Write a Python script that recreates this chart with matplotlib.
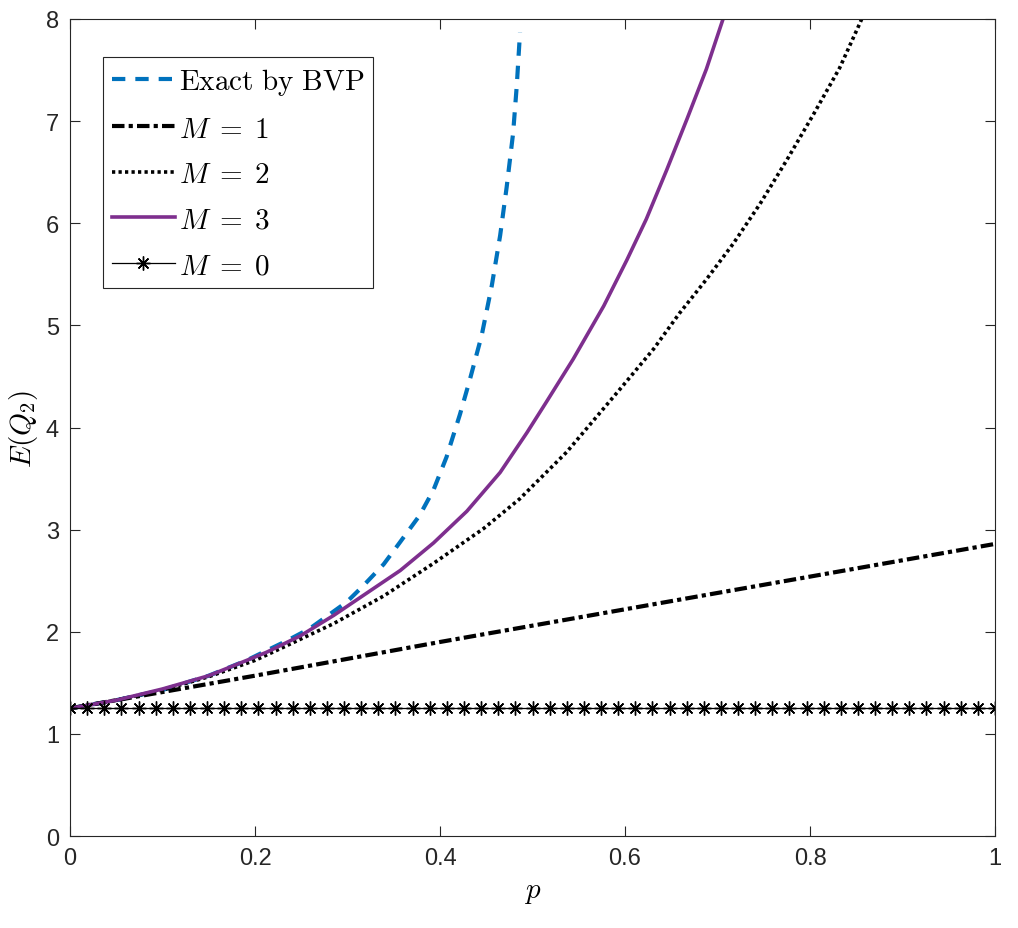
import numpy as np
import matplotlib
matplotlib.use("Agg")
import matplotlib.pyplot as plt

plt.rcParams['font.family'] = ['Liberation Sans', 'DejaVu Sans']
plt.rcParams['mathtext.fontset'] = 'cm'

# exact solution by BVP
p_bvp = [0, 0.05, 0.1, 0.15, 0.191, 0.209, 0.234, 0.259, 0.299, 0.317, 0.339, 0.357,
         0.378, 0.393, 0.407, 0.4216, 0.432, 0.445, 0.456, 0.465, 0.472, 0.479, 0.483, 0.4865]
e_bvp = [1.25, 1.33, 1.43, 1.57, 1.72, 1.80, 1.91, 2.03, 2.29, 2.45, 2.66, 2.88,
         3.14, 3.39, 3.71, 4.13, 4.46, 4.90, 5.39, 5.88, 6.35, 6.88, 7.35, 7.87]

# M = 1 (nearly straight)
p_m1 = [0, 0.2, 0.4, 0.6, 0.8, 1.0]
e_m1 = [1.25, 1.57, 1.90, 2.22, 2.54, 2.86]

# M = 2
p_m2 = [0, 0.05, 0.1, 0.15, 0.2, 0.231, 0.285, 0.339, 0.393, 0.447, 0.486, 0.537,
        0.595, 0.631, 0.659, 0.688, 0.717, 0.746, 0.775, 0.804, 0.832, 0.854, 0.87]
e_m2 = [1.25, 1.33, 1.43, 1.56, 1.72, 1.85, 2.08, 2.35, 2.67, 3.01, 3.30, 3.76,
        4.38, 4.77, 5.12, 5.45, 5.80, 6.19, 6.62, 7.07, 7.52, 7.96, 8.3]

# M = 3
p_m3 = [0, 0.05, 0.1, 0.15, 0.191, 0.2126, 0.249, 0.285, 0.321, 0.357, 0.393, 0.429,
        0.465, 0.494, 0.515, 0.544, 0.577, 0.602, 0.623, 0.645, 0.667, 0.688, 0.706, 0.72]
e_m3 = [1.25, 1.33, 1.44, 1.57, 1.72, 1.80, 1.96, 2.16, 2.38, 2.60, 2.87, 3.18,
        3.56, 3.95, 4.25, 4.67, 5.19, 5.64, 6.04, 6.52, 7.02, 7.51, 8.0, 8.38]

# M = 0 : constant value, 55 markers
p_m0 = np.linspace(0, 1, 55)
e_m0 = np.full(55, 1.25)

fig = plt.figure(figsize=(10.18, 9.29), dpi=100)
ax = fig.add_axes([0.0688, 0.099, 0.9086, 0.8795])

ax.plot(p_bvp, e_bvp, color="#0072BD", lw=3, dashes=(3.2, 2.4),
        label=r"$\mathrm{Exact\ by\ BVP}$")
ax.plot(p_m1, e_m1, color="black", lw=3, dashes=(3.0, 1.0, 1.0, 1.0), label=r"$M\;=\;1$")
ax.plot(p_m2, e_m2, color="black", lw=2.6, dashes=(0.9, 0.9), label=r"$M\;=\;2$")
ax.plot(p_m3, e_m3, color="#7E2F8E", lw=2.6, label=r"$M\;=\;3$")
ax.plot(p_m0, e_m0, color="black", lw=0.9, marker=(8, 2, 0), markersize=10,
        markeredgewidth=1.0, label=r"$M\;=\;0$")

ax.set_xlim(0, 1)
ax.set_ylim(0, 8)
ax.set_xticks([0, 0.2, 0.4, 0.6, 0.8, 1])
ax.set_xticklabels(["0", "0.2", "0.4", "0.6", "0.8", "1"])
ax.set_yticks(range(0, 9))
ax.tick_params(direction="in", top=True, right=True, labelsize=17, length=7,
               width=0.8, colors="#262626", pad=8)
for s in ax.spines.values():
    s.set_linewidth(0.8)
    s.set_color("#262626")

ax.set_xlabel(r"$p$", fontsize=21, labelpad=6)
ax.set_ylabel(r"$E(Q_2)$", fontsize=21, labelpad=4)

leg = ax.legend(loc="upper left", bbox_to_anchor=(0.036, 0.953), fontsize=21,
                handlelength=2.15, handletextpad=0.15, borderpad=0.3,
                borderaxespad=0, labelspacing=0.6, fancybox=False, framealpha=1,
                edgecolor="#262626")
leg.get_frame().set_linewidth(0.8)

fig.savefig("out.png", dpi=100)
